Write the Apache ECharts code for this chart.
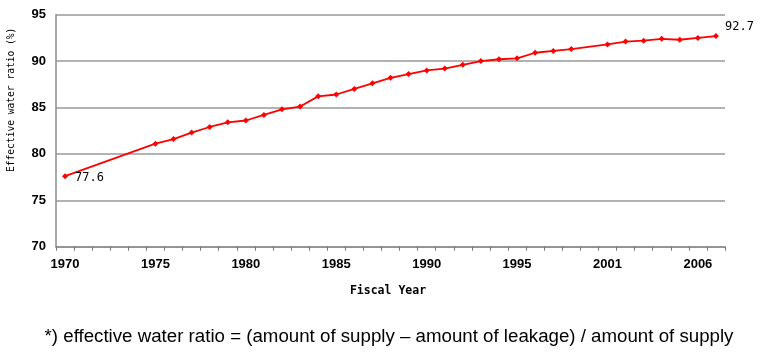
<!DOCTYPE html>
<html><head><meta charset="utf-8">
<script src="https://cdn.jsdelivr.net/npm/echarts@6/dist/echarts.min.js"></script>
<style>html,body{margin:0;padding:0;background:#fff}#c{width:761px;height:358px}</style>
</head><body><div id="c"></div>
<script>
// Category slots as drawn on the source chart (1999 slot has no marker)
const years = ['1970','1971','1972','1973','1974','1975','1976','1977','1978','1979',
  '1980','1981','1982','1983','1984','1985','1986','1987','1988','1989',
  '1990','1991','1992','1993','1994','1995','1996','1997','1998','1999',
  '2001','2002','2003','2004','2005','2006','2007'];
const ratio = [77.6,null,null,null,null,81.1,81.6,82.3,82.9,83.4,
  83.6,84.2,84.8,85.1,86.2,86.4,87.0,87.6,88.2,88.6,
  89.0,89.2,89.6,90.0,90.2,90.3,90.9,91.1,91.3,null,
  91.8,92.1,92.2,92.4,92.3,92.5,92.7];
const yTicks = [70,75,80,85,90,95];
const yTitle = 'Effective water ratio (%)';
const xTitle = 'Fiscal Year';
const footnote = '*) effective water ratio = (amount of supply \u2013 amount of leakage) / amount of supply';

const lastIdx = ratio.length - 1;
const seriesData = ratio.map((v, i) => {
  if (i === 0) return {value: v, label: {show: true, position: 'right', offset: [2, 2]}};
  if (i === lastIdx) return {value: v, label: {show: true, position: 'right', offset: [1, -9]}};
  return v;
});

const chart = echarts.init(document.getElementById('c'));
chart.setOption({
  animation: false,
  backgroundColor: '#fff',
  grid: {left: 56, right: 36, top: 14.7, bottom: 111.3},
  xAxis: {
    type: 'category', data: years, boundaryGap: true,
    axisLine: {lineStyle: {color: '#8c8c8c', width: 1.5}},
    axisTick: {show: true, alignWithLabel: false, interval: 0, length: 4, lineStyle: {color: '#777'}},
    axisLabel: {interval: 4, color: '#000', fontFamily: 'Liberation Sans', fontWeight: 'bold', fontSize: 13, margin: 11},
    splitLine: {show: false}
  },
  yAxis: {
    type: 'value', min: yTicks[0], max: yTicks[yTicks.length-1], interval: 5,
    axisLine: {show: true, lineStyle: {color: '#8c8c8c', width: 1.5}},
    axisTick: {show: false},
    axisLabel: {color: '#000', fontFamily: 'Liberation Sans', fontWeight: 'bold', fontSize: 13, margin: 10},
    splitLine: {lineStyle: {color: '#999', width: 1.5}}
  },
  series: [{
    type: 'line', data: seriesData, connectNulls: true,
    symbol: 'diamond', symbolSize: 6, showAllSymbol: true,
    lineStyle: {color: '#ff0000', width: 1.8},
    itemStyle: {color: '#ff0000'},
    label: {show: false, color: '#000', fontFamily: 'DejaVu Sans Mono', fontSize: 12,
      formatter: p => String(p.value)}
  }],
  graphic: [
    {type: 'text', x: 11, y: 172, rotation: Math.PI/2,
     style: {text: yTitle, x: 0, y: 0, textAlign: 'left', textVerticalAlign: 'middle',
       font: '9.6px "DejaVu Sans Mono"', fill: '#000'}, z: 10},
    {type: 'text', style: {text: xTitle, x: 388, y: 291, textAlign: 'center', textVerticalAlign: 'middle',
      font: 'bold 11.5px "DejaVu Sans Mono"', fill: '#000'}},
    {type: 'text', style: {text: footnote, x: 389, y: 337, textAlign: 'center', textVerticalAlign: 'middle',
      font: '18.7px "Liberation Sans"', fill: '#000'}}
  ]
});
</script></body></html>
